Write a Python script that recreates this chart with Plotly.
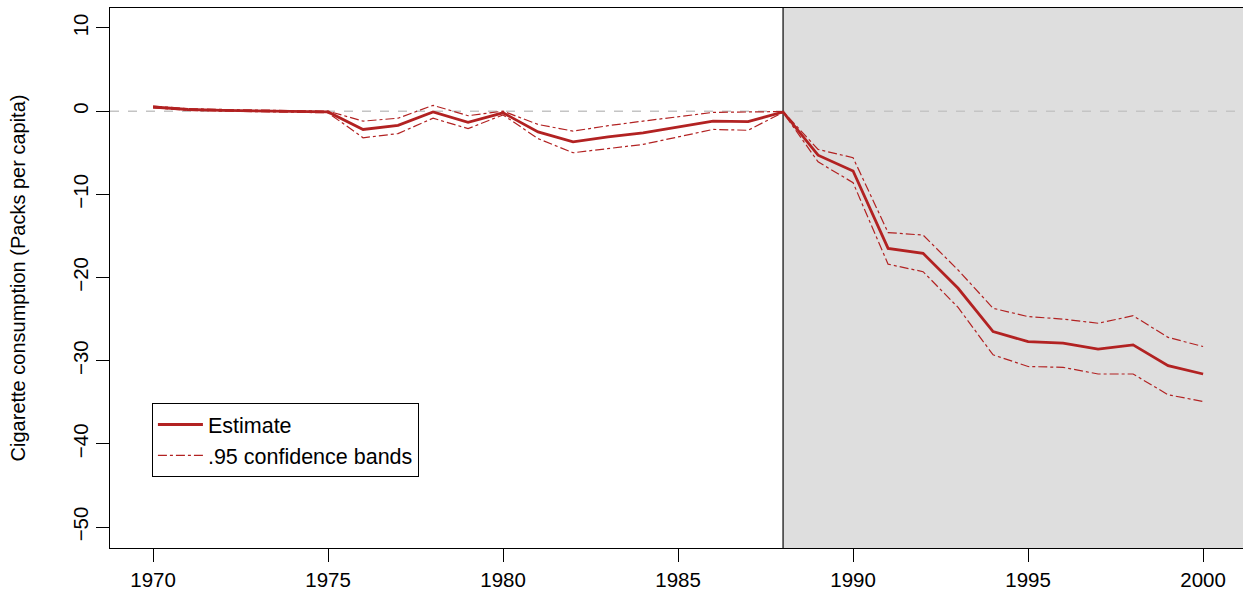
import plotly.graph_objects as go

years = list(range(1970, 2001))
estimate = [0.5, 0.2, 0.1, 0.05, 0.0, -0.1, -2.2, -1.7, -0.1, -1.35, -0.2,
            -2.5, -3.7, -3.1, -2.6, -1.9, -1.2, -1.25, -0.1,
            -5.3, -7.2, -16.5, -17.1, -21.3, -26.5, -27.7, -27.9, -28.6, -28.1, -30.6, -31.6]
upper = [0.6, 0.3, 0.2, 0.15, 0.1, 0.0, -1.2, -0.85, 0.7, -0.55, 0.0,
         -1.6, -2.4, -1.75, -1.2, -0.7, -0.15, -0.1, -0.05,
         -4.6, -5.6, -14.6, -14.9, -19.1, -23.7, -24.7, -25.0, -25.5, -24.6, -27.2, -28.3]
lower = [0.4, 0.1, 0.0, -0.05, -0.1, -0.2, -3.2, -2.7, -0.85, -2.1, -0.45,
         -3.3, -5.0, -4.5, -4.0, -3.1, -2.2, -2.3, -0.15,
         -6.1, -8.6, -18.4, -19.3, -23.6, -29.3, -30.7, -30.8, -31.6, -31.6, -34.1, -34.9]

treat_year = 1988
y_ticks = [-50, -40, -30, -20, -10, 0, 10]
x_ticks = [1970, 1975, 1980, 1985, 1990, 1995, 2000]
x_range = [1968.77, 2001.14]
y_range = [-52.52, 12.4]

red = "#B22222"
font_family = "Liberation Sans, Arial, Helvetica, sans-serif"

fig = go.Figure()
fig.add_trace(go.Scatter(x=years, y=estimate, mode="lines", name="Estimate",
                         line=dict(color=red, width=2.8)))
fig.add_trace(go.Scatter(x=years, y=upper, mode="lines", name=".95 confidence bands",
                         line=dict(color=red, width=1.2, dash="dashdot"), legendgroup="ci"))
fig.add_trace(go.Scatter(x=years, y=lower, mode="lines", name=".95 confidence bands",
                         line=dict(color=red, width=1.2, dash="dashdot"), legendgroup="ci",
                         showlegend=False))

# shaded post-treatment region
fig.add_shape(type="rect", xref="x", yref="paper", x0=treat_year, x1=x_range[1],
              y0=0, y1=1, fillcolor="#DEDEDE", line=dict(width=0), layer="below")
# zero reference line
fig.add_shape(type="line", xref="paper", yref="y", x0=0, x1=1, y0=0, y1=0,
              line=dict(color="#C4C4C4", width=1.5, dash="dash"), layer="below")
# treatment vertical line
fig.add_shape(type="line", xref="x", yref="paper", x0=treat_year, x1=treat_year,
              y0=0, y1=1, line=dict(color="#333333", width=1.5), layer="below")

fig.update_layout(
    width=1243, height=599,
    margin=dict(l=110, r=0, t=8, b=51, autoexpand=False),
    paper_bgcolor="white", plot_bgcolor="white",
    font=dict(family=font_family, size=21, color="black"),
    showlegend=True,
    legend=dict(x=0.037, y=0.2685, xanchor="left", yanchor="top",
                bgcolor="white", bordercolor="black", borderwidth=1,
                font=dict(size=21.5), tracegroupgap=0, itemwidth=45),
    xaxis=dict(range=x_range, tickvals=x_ticks, ticktext=[str(t) for t in x_ticks],
               showgrid=False, zeroline=False, showline=True, linecolor="black",
               linewidth=1, mirror=True, ticks="outside", ticklen=13, tickcolor="black",
               tickfont=dict(size=20.5), automargin=False),
    yaxis=dict(range=y_range, tickvals=y_ticks,
               ticktext=[str(t).replace("-", "\u2212") for t in y_ticks],
               showgrid=False, zeroline=False, showline=True, linecolor="black",
               linewidth=1, mirror=True, ticks="outside", ticklen=13, tickcolor="black",
               tickangle=-90, tickfont=dict(size=20.5), automargin=False,
               title=dict(text="Cigarette consumption (Packs per capita)",
                          font=dict(size=20), standoff=37)),
)

fig.write_html("out.html", config={"displayModeBar": False},
               post_script="document.body.style.margin='0';")
